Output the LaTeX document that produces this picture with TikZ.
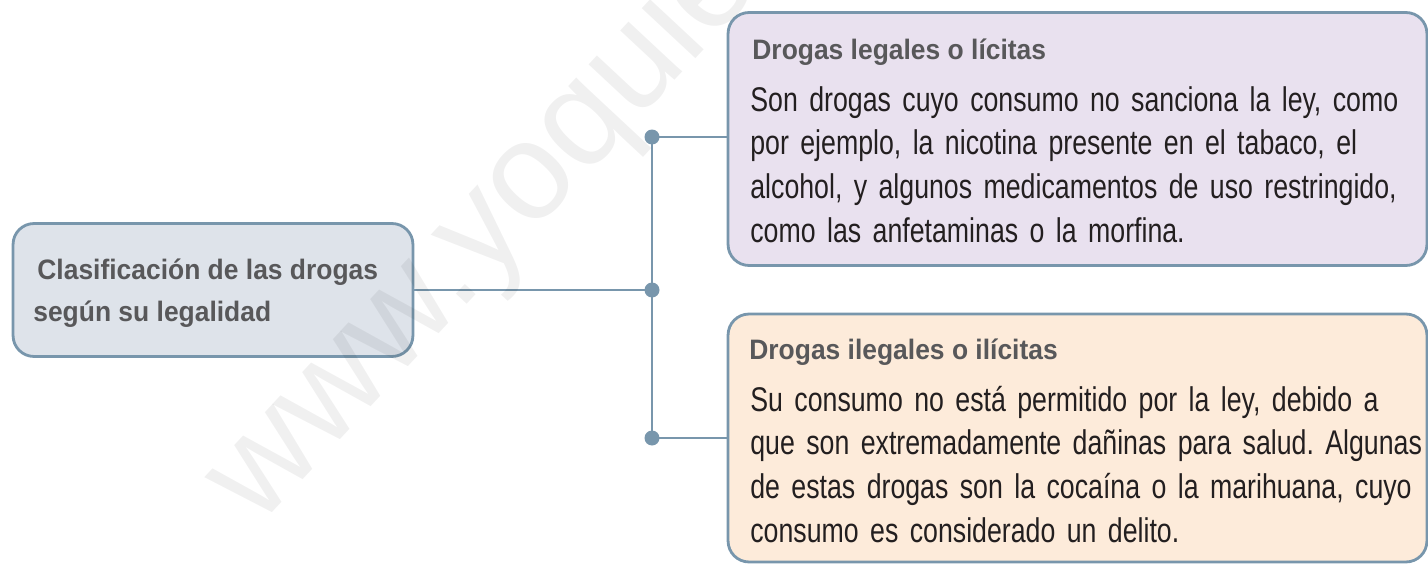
\documentclass[tikz,border=0pt]{standalone}
\usepackage{fontspec}
\setmainfont{Liberation Sans}
\newfontfamily\bodyfont[FakeStretch=0.78]{Liberation Sans}
\newfontfamily\headfont[FakeStretch=0.94]{Liberation Sans}
\definecolor{edge}{HTML}{7896AC}
\definecolor{rootfill}{HTML}{DEE3EA}
\definecolor{legfill}{HTML}{E9E1EF}
\definecolor{ilegfill}{HTML}{FDEBDA}
\definecolor{headtext}{HTML}{58585A}
\definecolor{bodytext}{HTML}{231F20}
\newlength\bw
\setlength\bw{13.16cm}
\newcommand\jline[1]{\makebox[\bw][s]{#1}}
\frenchspacing
\tikzset{
  box/.style={draw=edge, line width=1.6pt, rounded corners=0.42cm, inner sep=0pt},
  conn/.style={draw=edge, line width=1.5pt},
  dotc/.style={fill=edge},
  headtxt/.style={text=headtext, inner sep=0pt, align=left,
    font={\headfont\bfseries\fontsize{16pt}{23.8pt}\selectfont}},
  bodytxt/.style={text=bodytext, inner sep=0pt, text width=\bw, align=left,
    font={\bodyfont\frenchspacing\fontsize{19.5pt}{24.95pt}\selectfont}},
  wmark/.style={text=black, text opacity=0.06, inner sep=0pt,
    font={\fontsize{79pt}{79pt}\selectfont}}
}
\begin{document}
\begin{tikzpicture}[x=0.02cm,y=-0.02cm]
\useasboundingbox (0,0) rectangle (1428,565);
\clip (0,0) rectangle (1428,565);

% boxes
\node[box, fill=rootfill, minimum width=8.0cm, minimum height=2.66cm] (root) at (213,290) {};
\node[box, fill=legfill, minimum width=13.98cm, minimum height=5.06cm] (leg) at (1077.5,139) {};
\node[box, fill=ilegfill, minimum width=13.98cm, minimum height=4.96cm] (ileg) at (1077.5,438) {};

% texts
\node[headtxt, anchor=base west] (roottxt) at (33,321) {\hspace{2.3pt}Clasificación de las drogas\\según su legalidad};
\node[headtxt, anchor=base west] (legtitle) at (748,59) {\hspace{2.3pt}Drogas legales o lícitas};
\node[bodytxt, anchor=base west] (legbody) at (750,111) {%
\jline{Son drogas cuyo consumo no sanciona la ley, como}\\
\jline{por ejemplo, la nicotina presente en el tabaco, el}\\
\jline{alcohol, y algunos medicamentos de uso restringido,}\\
como las anfetaminas o la morfina.};
\node[headtxt, anchor=base west] (ilegtitle) at (749,359) {Drogas ilegales o ilícitas};
\node[bodytxt, anchor=base west] (ilegbody) at (750,411) {%
\jline{Su consumo no está permitido por la ley, debido a}\\
\jline{que son extremadamente dañinas para salud. Algunas}\\
\jline{de estas drogas son la cocaína o la marihuana, cuyo}\\
consumo es considerado un delito.};

% connectors
\coordinate (d1) at (652,137);
\coordinate (d0) at (652,290);
\coordinate (d2) at (652,438);
\draw[conn] (root.east) -- (d0);
\draw[conn] (d1) -- (d2);
\draw[conn] (d1) -- (d1 -| leg.west);
\draw[conn] (d2) -- (d2 -| ileg.west);
\fill[dotc] (d1) circle (0.15cm);
\fill[dotc] (d0) circle (0.15cm);
\fill[dotc] (d2) circle (0.15cm);

% watermark
\node[wmark, rotate=47, anchor=base west] (wm) at (258,528) {www.yoquieroaprobar.es};
\end{tikzpicture}
\end{document}
